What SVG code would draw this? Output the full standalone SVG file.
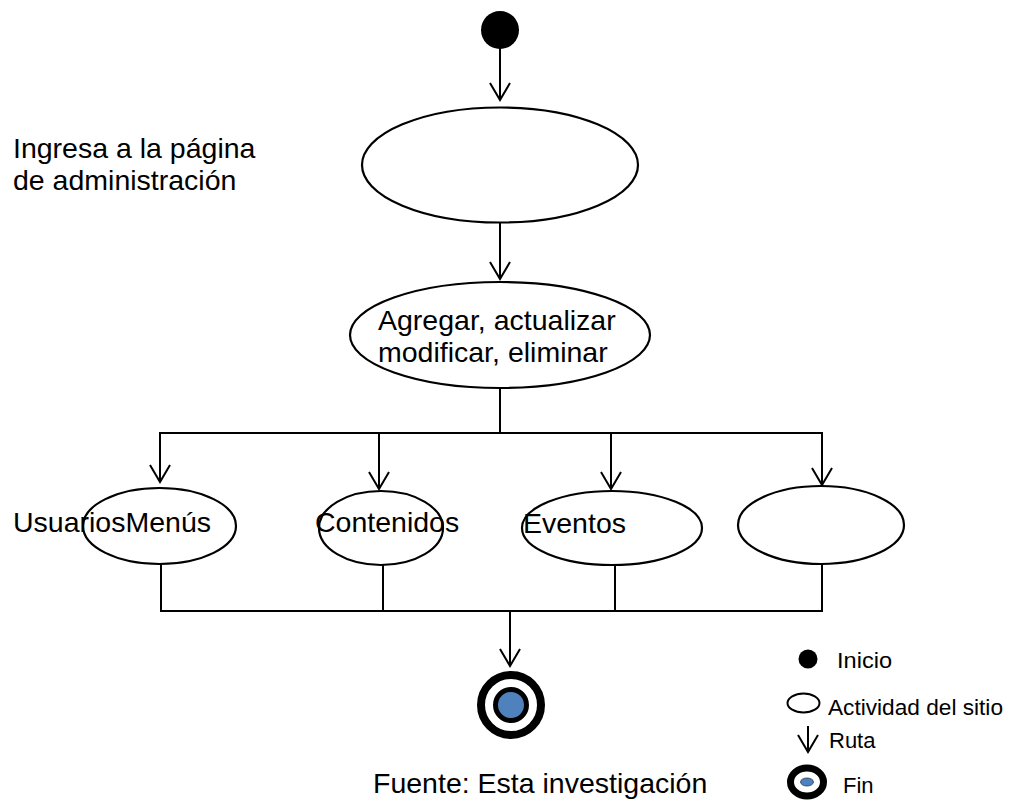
<svg xmlns="http://www.w3.org/2000/svg" width="1011" height="800" viewBox="0 0 1011 800">
<defs>
<style>
.t{font-family:"Liberation Sans",Arial,sans-serif;font-size:28.5px;fill:#000}
.l{font-family:"Liberation Sans",Arial,sans-serif;font-size:22px;fill:#000}
.n{fill:#fff;stroke:#000;stroke-width:2.2}
.c{fill:none;stroke:#000;stroke-width:2}
</style>
<marker id="arr" viewBox="-19 -12 21 24" refX="0" refY="0" markerWidth="21" markerHeight="24" markerUnits="userSpaceOnUse" orient="auto" overflow="visible">
<path d="M-17,-10 L0,0 L-17,10" fill="none" stroke="#000" stroke-width="2"/>
</marker>
</defs>
<rect width="1011" height="800" fill="#fff"/>

<g id="connectors">
<line class="c" x1="500" y1="48" x2="500" y2="100" marker-end="url(#arr)"/>
<line class="c" x1="500" y1="223" x2="500" y2="279" marker-end="url(#arr)"/>
<line class="c" x1="500" y1="388" x2="500" y2="433"/>
<line class="c" x1="159" y1="433" x2="823" y2="433"/>
<line class="c" x1="160" y1="433" x2="160" y2="482" marker-end="url(#arr)"/>
<line class="c" x1="379" y1="433" x2="379" y2="489" marker-end="url(#arr)"/>
<line class="c" x1="611" y1="433" x2="611" y2="489" marker-end="url(#arr)"/>
<line class="c" x1="822" y1="433" x2="822" y2="485" marker-end="url(#arr)"/>
<line class="c" x1="161" y1="564" x2="161" y2="611"/>
<line class="c" x1="383" y1="565" x2="383" y2="611"/>
<line class="c" x1="615" y1="565" x2="615" y2="611"/>
<line class="c" x1="822" y1="564" x2="822" y2="611"/>
<line class="c" x1="160" y1="611" x2="823" y2="611"/>
<line class="c" x1="510" y1="611" x2="510" y2="666" marker-end="url(#arr)"/>
</g>

<g id="start">
<circle cx="500" cy="30" r="19" fill="#000"/>
</g>

<g id="ingresa">
<ellipse class="n" cx="500" cy="165" rx="138" ry="57.5"/>
</g>
<text class="t" x="13" y="158">Ingresa a la página</text>
<text class="t" x="13" y="190">de administración</text>

<g id="agregar">
<ellipse class="n" cx="500" cy="335" rx="150" ry="53"/>
<text class="t" x="378" y="330">Agregar, actualizar</text>
<text class="t" x="378" y="362">modificar, eliminar</text>
</g>

<g id="usuarios">
<ellipse class="n" cx="159.5" cy="526" rx="76.5" ry="38"/>
<text class="t" x="13" y="532">UsuariosMenús</text>
</g>

<g id="contenidos">
<ellipse class="n" cx="381" cy="528" rx="62" ry="37"/>
<text class="t" x="315" y="532">Contenidos</text>
</g>

<g id="eventos">
<ellipse class="n" cx="612" cy="528" rx="90" ry="37"/>
<text class="t" x="523" y="533">Eventos</text>
</g>

<g id="vacio">
<ellipse class="n" cx="821" cy="525" rx="83" ry="39"/>
</g>

<g id="fin">
<circle cx="511" cy="705" r="30" fill="none" stroke="#000" stroke-width="8"/>
<circle cx="511" cy="705" r="15.5" fill="#4f81bd" stroke="#000" stroke-width="5"/>
</g>

<text class="t" x="373" y="793">Fuente: Esta investigación</text>

<g id="legend">
<circle cx="808" cy="659" r="9.5" fill="#000"/>
<text class="l" x="837" y="668" textLength="55" lengthAdjust="spacingAndGlyphs">Inicio</text>
<ellipse cx="803.5" cy="703" rx="16" ry="9.5" fill="#fff" stroke="#000" stroke-width="2"/>
<text class="l" x="828" y="715" textLength="175" lengthAdjust="spacingAndGlyphs">Actividad del sitio</text>
<line class="c" x1="808" y1="726" x2="808" y2="752" marker-end="url(#arr)"/>
<text class="l" x="829" y="748">Ruta</text>
<ellipse cx="807" cy="782" rx="16.5" ry="14" fill="none" stroke="#000" stroke-width="7"/>
<ellipse cx="807" cy="782" rx="6.5" ry="4" fill="#4f81bd" stroke="#1f3a60" stroke-width="0.8"/>
<text class="l" x="843" y="793">Fin</text>
</g>
</svg>
